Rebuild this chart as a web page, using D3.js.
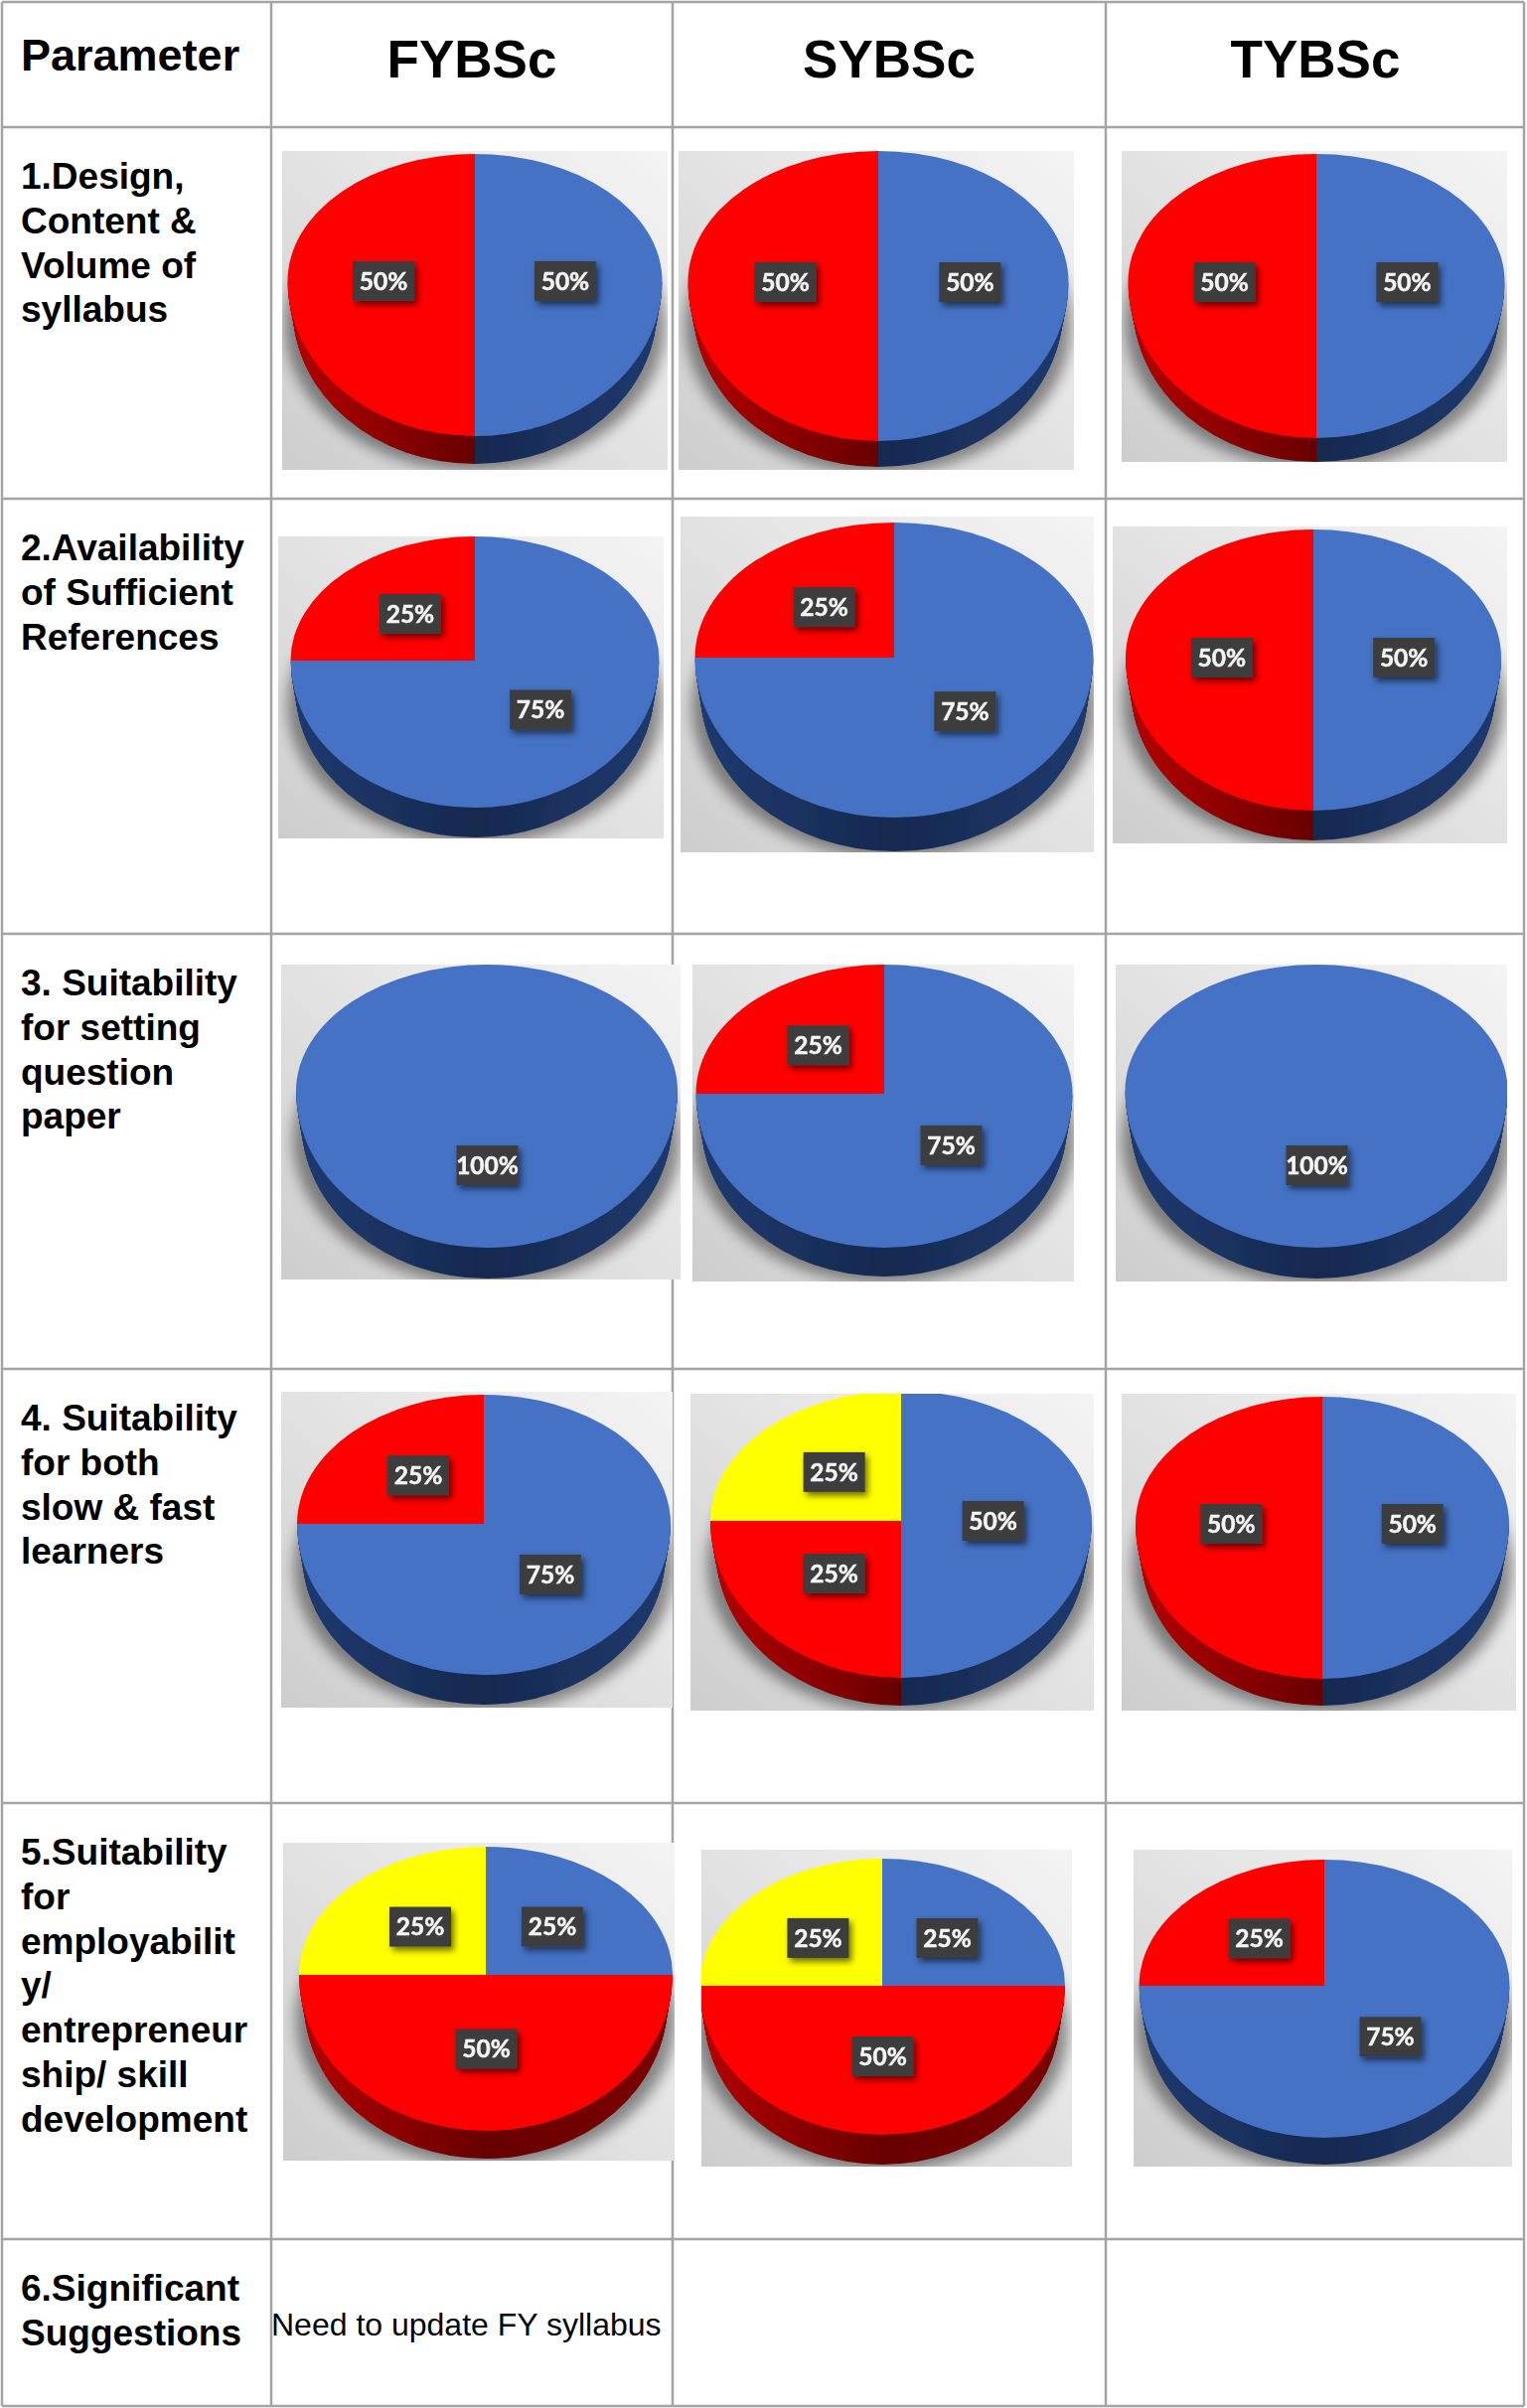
<!DOCTYPE html>
<meta charset="utf-8">
<head>
<script src="https://d3js.org/d3.v7.min.js"></script>
<style>
  html, body { margin: 0; padding: 0; background: #fff; }
  svg { display: block; }
</style>
</head>
<body>
<div id="container"></div>
<script>

// table text
const columns = ["FYBSc", "SYBSc", "TYBSc"];
const parameterHead = "Parameter";
const parameters = [
    ["1.Design,", "Content &", "Volume of", "syllabus"],
    ["2.Availability", "of Sufficient", "References"],
    ["3. Suitability", "for setting", "question", "paper"],
    ["4. Suitability", "for both", "slow & fast", "learners"],
    ["5.Suitability", "for", "employabilit", "y/", "entrepreneur", "ship/ skill", "development"],
    ["6.Significant", "Suggestions"]
];
const suggestion = "Need to update FY syllabus";

// shares per row, per column (FY, SY, TY)
const blueShare = [[50, 50, 50], [75, 75, 50], [100, 75, 100], [75, 50, 50], [25, 25, 75]];
const redShare = [[50, 50, 50], [25, 25, 50], [0, 25, 0], [25, 25, 50], [50, 50, 25]];
const yellowShare = [[0, 0, 0], [0, 0, 0], [0, 0, 0], [0, 25, 0], [25, 25, 0]];

// layout: the pasted pictures do not line up, each one has its own box
// x0, y0, x1, y1 = picture, cx, left, right, top, split, bottom, base = pie
const frames = [
    [[284, 152, 672, 473, 478, 289, 666, 155, 283, 439, 467],
     [683, 152, 1081, 473, 884, 693, 1076, 152, 284, 444, 470],
     [1129, 152, 1517, 465, 1325, 1135, 1514, 155, 284, 441, 465]],
    [[280, 540, 668, 844, 478, 292, 663, 540, 665, 813, 843],
     [685, 520, 1101, 858, 900, 700, 1101, 526, 662, 823, 857],
     [1120, 530, 1517, 849, 1322, 1133, 1511, 533, 662, 816, 846]],
    [[283, 971, 685, 1288, 490, 298, 682, 971, 1098, 1256, 1287],
     [697, 971, 1081, 1290, 890, 700, 1079, 971, 1101, 1256, 1285],
     [1123, 971, 1517, 1290, 1325, 1130, 1515, 971, 1098, 1256, 1287]],
    [[283, 1401, 677, 1719, 487, 298, 674, 1404, 1534, 1686, 1716],
     [695, 1403, 1101, 1722, 907, 715, 1099, 1400, 1531, 1689, 1717],
     [1129, 1403, 1526, 1722, 1331, 1143, 1519, 1406, 1534, 1690, 1717]],
    [[285, 1855, 679, 2175, 489, 300, 676, 1859, 1988, 2145, 2173],
     [706, 1862, 1079, 2181, 888, 707, 1075, 1871, 1999, 2149, 2179],
     [1141, 1862, 1522, 2181, 1333, 1147, 1520, 1872, 1999, 2152, 2179]]
];

const colEdges = [2, 273, 677, 1113, 1534];
const rowEdges = [2, 128, 502, 940, 1378, 1815, 2254, 2422];
const headCenters = [475, 895, 1324];

const topColors = ["#4472c4", "#ff0000", "#ffff00"];
const width = 1537, height = 2424;

const svg = d3.select("#container").append("svg")
    .attr("width", width)
    .attr("height", height);

const defs = svg.append("defs");

// picture background
const bg = defs.append("linearGradient").attr("id", "bg")
    .attr("x1", 0).attr("y1", 1).attr("x2", 1).attr("y2", 0);
bg.append("stop").attr("offset", 0).attr("stop-color", "#cdcdcd");
bg.append("stop").attr("offset", 0.5).attr("stop-color", "#e2e2e2");
bg.append("stop").attr("offset", 1).attr("stop-color", "#f4f4f4");

// wall colours, in unit circle space
const wallStops = [
    [["#1e3a70", 0], ["#16294f", 0.5], ["#1f3a6e", 1]],
    [["#b40000", 0], ["#670000", 0.5], ["#7c0000", 1]],
    [["#a0a000", 0], ["#808000", 0.5], ["#a0a000", 1]]
];
wallStops.forEach(function(stops, i) {
    let g = defs.append("linearGradient").attr("id", "wall" + i)
        .attr("gradientUnits", "userSpaceOnUse")
        .attr("x1", -1).attr("y1", 0).attr("x2", 1).attr("y2", 0);
    stops.forEach(function(s) {
        g.append("stop").attr("offset", s[1]).attr("stop-color", s[0]);
    });
});

defs.append("filter").attr("id", "soft").attr("x", "-5%").attr("y", "-5%").attr("width", "110%").attr("height", "110%")
    .append("feGaussianBlur").attr("stdDeviation", 0.6);
defs.append("filter").attr("id", "blur").attr("x", "-20%").attr("y", "-20%").attr("width", "140%").attr("height", "140%")
    .append("feGaussianBlur").attr("stdDeviation", 7);
defs.append("filter").attr("id", "labelShadow").attr("x", "-30%").attr("y", "-30%").attr("width", "170%").attr("height", "170%")
    .append("feDropShadow").attr("dx", 3).attr("dy", 4).attr("stdDeviation", 3)
    .attr("flood-color", "#000").attr("flood-opacity", 0.55);

// grid
colEdges.forEach(function(x) {
    svg.append("line").attr("x1", x).attr("x2", x)
        .attr("y1", rowEdges[0]).attr("y2", rowEdges[rowEdges.length - 1])
        .attr("stroke", "#a4a4a4").attr("stroke-width", 2.5);
});
rowEdges.forEach(function(y) {
    svg.append("line").attr("x1", colEdges[0]).attr("x2", colEdges[4])
        .attr("y1", y).attr("y2", y)
        .attr("stroke", "#a4a4a4").attr("stroke-width", 2.5);
});

const pie = d3.pie().sort(null).value(function(d) { return d; });
const arc = d3.arc().innerRadius(0).outerRadius(1);
const halves = [[0, Math.PI / 2, 0], [Math.PI / 2, 3 * Math.PI / 2, 1], [3 * Math.PI / 2, 2 * Math.PI, 0]];

// a slice cut at the split line: the upper half of the pie is flatter than the lower one
function pieces(d) {
    let out = [];
    halves.forEach(function(h) {
        let a0 = Math.max(d.startAngle, h[0]), a1 = Math.min(d.endAngle, h[1]);
        if (a1 > a0) out.push({ path: arc({ startAngle: a0, endAngle: a1 }), lower: h[2] });
    });
    return out;
}

function drawPanel(r, c) {
    let f = frames[r][c];
    let x0 = f[0], y0 = f[1], x1 = f[2], y1 = f[3], cx = f[4], left = f[5], right = f[6],
        top = f[7], split = f[8], bottom = f[9], base = f[10];
    let rx = (right - left) / 2, ryUp = split - top, ryDown = bottom - split, depth = base - bottom;
    let slices = pie([blueShare[r][c], redShare[r][c], yellowShare[r][c]]);

    let id = "clip" + r + "_" + c;
    defs.append("clipPath").attr("id", id).append("rect")
        .attr("x", x0).attr("y", y0).attr("width", x1 - x0).attr("height", y1 - y0);

    let outer = svg.append("g").attr("clip-path", "url(#" + id + ")");
    let panel = outer.append("g").attr("filter", "url(#soft)");

    panel.append("rect").attr("x", x0).attr("y", y0).attr("width", x1 - x0).attr("height", y1 - y0)
        .attr("fill", "url(#bg)");
    panel.append("ellipse").attr("cx", cx).attr("cy", split + (ryDown - ryUp) / 2 + depth + 3)
        .attr("rx", rx + 3).attr("ry", (ryUp + ryDown) / 2 + 4)
        .attr("fill", "#000").attr("opacity", 0.42).attr("filter", "url(#blur)");

    // walls, stacked from the floor up
    let inset = d3.scaleLinear().domain([depth, 0]).range([0.972, 1]);
    d3.range(depth, 0, -1).forEach(function(k) {
        slices.forEach(function(d, i) {
            pieces(d).forEach(function(p) {
                if (!p.lower) return;
                panel.append("path").attr("d", p.path).attr("fill", "url(#wall" + i + ")")
                    .attr("transform", "translate(" + cx + "," + (split + k) + ") scale(" + (rx * inset(k)) + "," + ryDown + ")");
            });
        });
    });

    // top face
    slices.forEach(function(d, i) {
        pieces(d).forEach(function(p) {
            panel.append("path").attr("d", p.path).attr("fill", topColors[i])
                .attr("transform", "translate(" + cx + "," + split + ") scale(" + rx + "," + (p.lower ? ryDown : ryUp) + ")");
        });
    });

    // value labels near the slice centroids, the side ones sit a bit closer in
    slices.forEach(function(d) {
        if (d.value === 0) return;
        let m = arc.centroid(d);
        let side = Math.abs(m[0]) > 0.4;
        let lx = side ? cx - 0.5 + m[0] * 0.97 * rx : cx + 0.5 + m[0] * rx,
            ly = split + m[1] * (m[1] < 0 ? ryUp : ryDown) - 8 * Math.abs(m[1]);
        let lab = panel.append("g").attr("transform", "translate(" + lx + "," + ly + ")");
        lab.append("rect").attr("x", -31).attr("y", -20).attr("width", 62).attr("height", 40)
            .attr("fill", "#3e3e3e").attr("filter", "url(#labelShadow)");
        lab.append("text").attr("text-anchor", "middle").attr("dy", "0.36em")
            .attr("font-family", "Lato").attr("font-weight", 700).attr("font-size", 24.5)
            .attr("stroke", "#f4f4f4").attr("stroke-width", 0.5)
            .attr("fill", "#f4f4f4").text(d.value + "%");
    });
}

d3.range(frames.length).forEach(function(r) {
    d3.range(columns.length).forEach(function(c) {
        drawPanel(r, c);
    });
});

// text
const font = "'Liberation Sans'";
svg.append("text").attr("x", 21).attr("y", 71)
    .attr("font-family", font).attr("font-weight", 700).attr("font-size", 45)
    .text(parameterHead);
columns.forEach(function(name, i) {
    svg.append("text").attr("x", headCenters[i]).attr("y", 78).attr("text-anchor", "middle")
        .attr("font-family", font).attr("font-weight", 700).attr("font-size", 53)
        .text(name);
});
parameters.forEach(function(lines, r) {
    lines.forEach(function(line, j) {
        svg.append("text").attr("x", 21).attr("y", rowEdges[r + 1] + 62 + j * 44.8)
            .attr("font-family", font).attr("font-weight", 700).attr("font-size", 37)
            .text(line);
    });
});
svg.append("text").attr("x", 273).attr("y", 2351)
    .attr("font-family", font).attr("font-size", 32)
    .text(suggestion);

</script>
</body>
